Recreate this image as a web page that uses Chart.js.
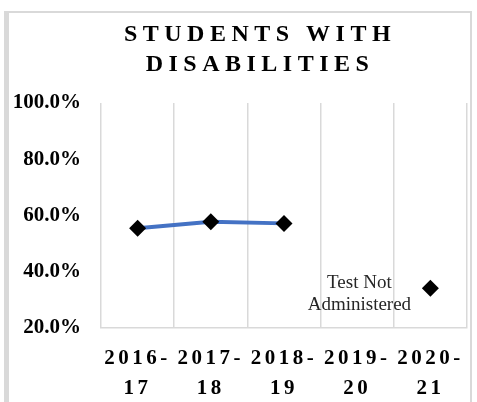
<!DOCTYPE html>
<html>
<head>
<meta charset="utf-8">
<script src="https://cdn.jsdelivr.net/npm/chart.js@4"></script>
<style>
  html, body { margin: 0; padding: 0; background: #fff; }
  #wrap { position: relative; width: 477px; height: 402px; overflow: hidden; }
  #frame {
    position: absolute; left: 4px; top: 11px; width: 468px; height: 420px;
    box-sizing: border-box; pointer-events: none;
    border-left: 5px solid #d9d9d9; border-top: 2px solid #d9d9d9; border-right: 2px solid #d9d9d9;
  }
  canvas { position: absolute; left: 0; top: 0; }
</style>
</head>
<body>
<div id="wrap">
  <canvas id="chart" width="477" height="402"></canvas>
  <div id="frame"></div>
</div>
<script>
const titleLines = ['STUDENTS WITH', 'DISABILITIES'];
const years = [['2016-', '17'], ['2017-', '18'], ['2018-', '19'], ['2019-', '20'], ['2020-', '21']];
const passRates = [55.5, 57.8, 57.2, null, 34.1];
const noteLines = ['Test Not', 'Administered'];
const yMin = 20;
const yMax = 100;
const yStep = 20;

const serif = 'Liberation Serif';

// canvas letterSpacing for the x labels and the title
const spacing = {
  id: 'spacing',
  beforeLayout(chart) {
    const wrap = (box, ls, dx) => {
      if (!box || box._spaced) return;
      const draw = box.draw;
      box.draw = function (area) {
        const ctx = this.ctx;
        ctx.save();
        ctx.letterSpacing = ls + 'px';
        ctx.translate(dx, 0);
        draw.call(this, area);
        ctx.restore();
      };
      box._spaced = true;
    };
    wrap(chart.scales.x, 3.5, 0);
    wrap(chart.titleBlock, 5.5, 26.5);
  }
};

// "Test Not Administered" label left of the last point
const note = {
  id: 'note',
  afterDatasetsDraw(chart) {
    const pt = chart.getDatasetMeta(0).data[4];
    const ctx = chart.ctx;
    ctx.save();
    ctx.font = '19px "' + serif + '"';
    ctx.fillStyle = '#262626';
    ctx.textAlign = 'center';
    ctx.textBaseline = 'alphabetic';
    noteLines.forEach((t, i) => ctx.fillText(t, pt.x - 71, pt.y + i * 22));
    ctx.restore();
  }
};

new Chart(document.getElementById('chart'), {
  type: 'line',
  data: {
    labels: years,
    datasets: [{
      data: passRates,
      borderColor: '#4472C4',
      borderWidth: 4,
      tension: 0,
      spanGaps: false,
      pointStyle: 'rectRot',
      pointRadius: 8.5,
      pointBackgroundColor: '#000',
      pointBorderColor: '#000',
      pointBorderWidth: 0
    }]
  },
  options: {
    responsive: false,
    animation: false,
    devicePixelRatio: 1,
    events: [],
    layout: { padding: { left: 0, right: 10, top: 0, bottom: 0 } },
    plugins: {
      legend: { display: false },
      tooltip: { enabled: false },
      title: {
        display: true,
        text: titleLines,
        color: '#000',
        font: { family: serif, size: 24, weight: 'bold', lineHeight: 30 / 24 },
        padding: { top: 20, bottom: 23 }
      }
    },
    scales: {
      x: {
        offset: true,
        grid: { offset: true, color: '#d9d9d9', lineWidth: 1.5, drawTicks: false },
        border: { color: '#d9d9d9', width: 1.5 },
        ticks: {
          color: '#000',
          font: { family: serif, size: 21, weight: 'bold', lineHeight: 30 / 21 },
          padding: 16,
          maxRotation: 0,
          autoSkip: false
        },
        afterFit(s) { s.height = 74; }
      },
      y: {
        min: yMin,
        max: yMax,
        grid: { display: false, drawTicks: false },
        border: { display: false },
        ticks: {
          stepSize: yStep,
          color: '#000',
          font: { family: serif, size: 21, weight: 'bold' },
          padding: 20,
          callback: v => v.toFixed(1) + '%'
        },
        afterFit(s) { s.width = 101; }
      }
    }
  },
  plugins: [spacing, note]
});
</script>
</body>
</html>
